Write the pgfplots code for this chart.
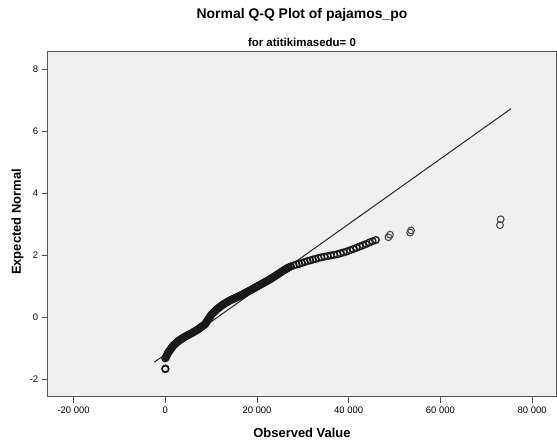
\documentclass[border=0pt]{standalone}
\usepackage{pgfplots}
\pgfplotsset{compat=1.18}
\usepackage{fontspec}
\setmainfont{Liberation Sans}
\definecolor{plotbg}{HTML}{F0F0F0}
\definecolor{framec}{HTML}{555555}
\begin{document}
\begin{tikzpicture}
\useasboundingbox (0,0) rectangle (557bp,444bp);
\fill[white] (0,0) rectangle (557bp,444bp);
\begin{axis}[
  at={(47.7bp,47.3bp)}, anchor=south west,
  scale only axis, width=508.3bp, height=345bp,
  xmin=-25650, xmax=85210, ymin=-2.57, ymax=8.57,
  scaled x ticks=false, scaled y ticks=false,
  axis background/.style={fill=plotbg},
  axis line style={draw=framec, line width=1bp},
  xtick={-20000,0,20000,40000,60000,80000},
  xticklabels={-20 000,0,20 000,40 000,60 000,80 000},
  ytick={-2,0,2,4,6,8},
  yticklabels={-2,0,2,4,6,8},
  tick pos=left, tick align=outside,
  major tick length=6bp,
  tick style={draw=framec, line width=0.8bp},
  tick label style={font=\fontsize{9.5}{11}\selectfont, text=black},
  xticklabel style={yshift=-1bp},
  /pgf/number format/assume math mode=true,
  clip=true,
]
\addplot[black!85, line width=1bp] coordinates {(-2400,-1.455) (75400,6.73)};
\addplot[only marks, mark=o, mark size=3.4bp, black!90, mark options={line width=1.3bp}] coordinates {
(0,-1.68) (20,-1.66)
(0,-1.33) (110,-1.30) (215,-1.27) (325,-1.24) (435,-1.20) (540,-1.17)
(650,-1.14) (785,-1.11) (925,-1.085) (1060,-1.06) (1195,-1.03) (1335,-1.00) (1470,-0.975) (1610,-0.95)
(1745,-0.92) (1930,-0.895) (2110,-0.87) (2290,-0.845) (2475,-0.82) (2655,-0.795)
(2840,-0.77) (3050,-0.75) (3255,-0.73) (3465,-0.71) (3675,-0.69) (3885,-0.67) (4090,-0.65)
(4300,-0.63) (4510,-0.615) (4715,-0.60) (4925,-0.585) (5135,-0.565) (5345,-0.55) (5550,-0.535)
(5760,-0.52) (5965,-0.50) (6170,-0.48) (6375,-0.465) (6585,-0.445) (6790,-0.43) (6995,-0.41)
(7200,-0.39) (7380,-0.37) (7565,-0.35) (7745,-0.33) (7930,-0.31) (8110,-0.29) (8295,-0.27) (8475,-0.25)
(8660,-0.23) (8805,-0.20) (8950,-0.165) (9090,-0.135) (9235,-0.10)
(9380,-0.07) (9530,-0.04) (9675,-0.005) (9825,0.025) (9970,0.06)
(10120,0.09) (10300,0.115) (10485,0.145) (10665,0.17) (10845,0.195) (11030,0.225)
(11210,0.25) (11415,0.275) (11620,0.295) (11825,0.32) (12030,0.34) (12240,0.365) (12445,0.39)
(12650,0.41) (12860,0.43) (13065,0.45) (13275,0.465) (13485,0.485) (13695,0.505) (13900,0.52)
(14110,0.54) (14330,0.555) (14545,0.57) (14765,0.585) (14980,0.60) (15200,0.615) (15420,0.63) (15635,0.645) (15855,0.66) (16070,0.675)
(16290,0.69) (16510,0.705) (16725,0.725) (16945,0.74) (17160,0.76) (17380,0.775) (17600,0.79) (17815,0.81) (18035,0.825) (18250,0.845)
(18470,0.86) (18690,0.88) (18905,0.895) (19125,0.915) (19340,0.93) (19560,0.95) (19780,0.97) (19995,0.985) (20215,1.005) (20430,1.02)
(20650,1.04) (20870,1.06) (21085,1.075) (21305,1.095) (21520,1.11) (21740,1.13) (21960,1.15) (22175,1.165) (22395,1.185) (22610,1.20)
(22830,1.22) (23040,1.24) (23245,1.26) (23455,1.28) (23665,1.30) (23875,1.32) (24080,1.34)
(24290,1.36) (24500,1.38) (24705,1.40) (24910,1.42) (25120,1.44) (25325,1.46) (25530,1.48)
(25740,1.50) (25950,1.52) (26155,1.535) (26365,1.555) (26575,1.575) (26780,1.59) (26990,1.61)
(27400,1.64) (28000,1.67) (28600,1.70) (29200,1.72) (29800,1.75) (30400,1.78) (31000,1.81) (31600,1.83)
(32200,1.86) (32800,1.88) (33400,1.91) (34000,1.93) (34700,1.95) (35400,1.97) (36100,1.99) (36800,2.01)
(37500,2.03) (38200,2.06) (38900,2.09) (39600,2.12) (40300,2.16) (41000,2.20) (41700,2.24) (42400,2.28)
(43100,2.32) (43800,2.36) (44500,2.41) (45200,2.45) (45900,2.49)
};
\addplot[only marks, mark=o, mark size=3.4bp, black!75, mark options={line width=1bp}] coordinates {
(48650,2.58) (49000,2.66) (53400,2.73) (53600,2.80) (73000,2.97) (73150,3.16)
};
\end{axis}
\node[font=\fontsize{14}{16}\selectfont\bfseries] at (302bp,429bp) {Normal Q-Q Plot of pajamos\_po};
\node[font=\fontsize{11.5}{13}\selectfont\bfseries] at (302bp,402bp) {for atitikimasedu= 0};
\node[font=\fontsize{13}{15}\selectfont\bfseries] at (302bp,11bp) {Observed Value};
\node[font=\fontsize{13}{15}\selectfont\bfseries, rotate=90] at (17.5bp,222bp) {Expected Normal};
\end{tikzpicture}
\end{document}
